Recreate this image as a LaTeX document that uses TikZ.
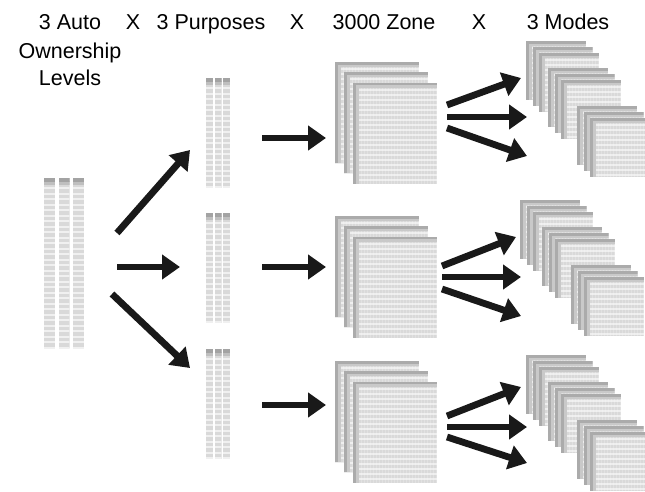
\documentclass[tikz,border=0pt]{standalone}
\usepackage{fontspec}
\setmainfont{Liberation Sans}
\usetikzlibrary{arrows.meta}

% one striped column (x, y, width, height)
\newcommand\zstrip[4]{%
  \begin{scope}
    \clip (#1,#2) rectangle ++(#3,#4);
    \fill[gray!30] (#1,#2) rectangle ++(#3,#4);
    \foreach \k in {0,...,40}{
      \fill[gray!12] (#1,#2+9+\k*5.5) rectangle ++(#3,2.4);}
    \fill[gray!50] (#1,#2+3) rectangle ++(#3,4);
    \fill[gray!72] (#1,#2) rectangle ++(#3,3.5);
  \end{scope}}

% one gridded sheet (x, y, width, height)
\newcommand\zsheet[4]{%
  \begin{scope}
    \clip (#1,#2) rectangle ++(#3,#4);
    \fill[gray!30] (#1,#2) rectangle ++(#3,#4);
    \foreach \k in {0,...,40}{
      \fill[gray!13] (#1,#2+6+\k*5) rectangle ++(#3,2);}
    \foreach \k in {0,...,40}{
      \draw[white, opacity=0.22, line width=0.6pt] (#1+5+\k*3,#2) -- ++(0,#4);}
    \fill[gray!42] (#1+3,#2) rectangle ++(3,#4);
    \fill[gray!42] (#1,#2+2.5) rectangle ++(#3,2.5);
    \fill[gray!66] (#1,#2) rectangle ++(#3,2.8);
    \fill[gray!66] (#1,#2) rectangle ++(3.2,#4);
  \end{scope}}

% three stacked matrices with their top-left corner at (x, y)
\newcommand\zmatrices[2]{%
  \foreach \i in {0,1,2}{%
    \zsheet{#1+\i*9}{#2+\i*10.3}{84}{101}}}

% nine stacked mode sheets with their top-left corner at (x, y)
\newcommand\zmodes[2]{%
  \foreach \gx/\gy in {0/0, 22/27, 51/65}{%
    \foreach \i in {0,1,2}{%
      \zsheet{#1+\gx+\i*6.5}{#2+\gy+\i*6}{60}{59}}}}

\tikzset{
  head/.style={font=\fontsize{21.5}{25}\selectfont, anchor=base, inner sep=0pt},
  bigarrow/.style={line width=6.8pt, -{Triangle[length=18pt,width=24pt]}, black!90},
}

\begin{document}
\begin{tikzpicture}[x=1pt, y=-1pt]
  \useasboundingbox (0,0) rectangle (645,491);
  \fill[white] (0,0) rectangle (645,491);

  % column headings
  \node[head] (hauto) at (70,29) {3 Auto};
  \node[head] (hown)  at (70,58) {Ownership};
  \node[head] (hlev)  at (70,85) {Levels};
  \node[head] (x1) at (133,29) {X};
  \node[head] (hpur) at (211,29) {3 Purposes};
  \node[head] (x2) at (297,29) {X};
  \node[head] (hzone) at (384,29) {3000 Zone};
  \node[head] (x3) at (479,29) {X};
  \node[head] (hmod) at (568,29) {3 Modes};

  % auto ownership levels
  \foreach \x in {44,58.5,73}{
    \zstrip{\x}{178}{11}{170}}

  % purposes
  \foreach \y in {78,213,349}{
    \foreach \x in {206,214.5,223}{
      \zstrip{\x}{\y}{7}{110}}}

  % zone matrices
  \zmatrices{335}{62}
  \zmatrices{335}{216}
  \zmatrices{335}{361}

  % mode matrices
  \zmodes{526}{41}
  \zmodes{520}{200}
  \zmodes{526}{355}

  % arrow end points
  \coordinate (l1s) at (117,233); \coordinate (l1e) at (190,150);
  \coordinate (l2s) at (117,267); \coordinate (l2e) at (180,267);
  \coordinate (l3s) at (112,294); \coordinate (l3e) at (190,368);
  \foreach \n/\y in {1/138, 2/267, 3/405} {
    \coordinate (m\n s) at (262,\y);
    \coordinate (m\n e) at (326,\y);
  }
  \coordinate (a1s) at (447,105); \coordinate (a1e) at (521,78);
  \coordinate (a2s) at (447,117); \coordinate (a2e) at (527,117);
  \coordinate (a3s) at (447,128); \coordinate (a3e) at (527,156);
  \coordinate (b1s) at (442,266); \coordinate (b1e) at (516,237);
  \coordinate (b2s) at (442,277); \coordinate (b2e) at (521,277);
  \coordinate (b3s) at (442,289); \coordinate (b3e) at (521,316);
  \coordinate (c1s) at (447,416); \coordinate (c1e) at (521,387);
  \coordinate (c2s) at (447,427); \coordinate (c2e) at (527,427);
  \coordinate (c3s) at (447,437); \coordinate (c3e) at (527,463);

  % arrows
  \foreach \p in {l1,l2,l3,m1,m2,m3,a1,a2,a3,b1,b2,b3,c1,c2,c3}{
    \draw[bigarrow] (\p s) -- (\p e);}
\end{tikzpicture}
\end{document}
